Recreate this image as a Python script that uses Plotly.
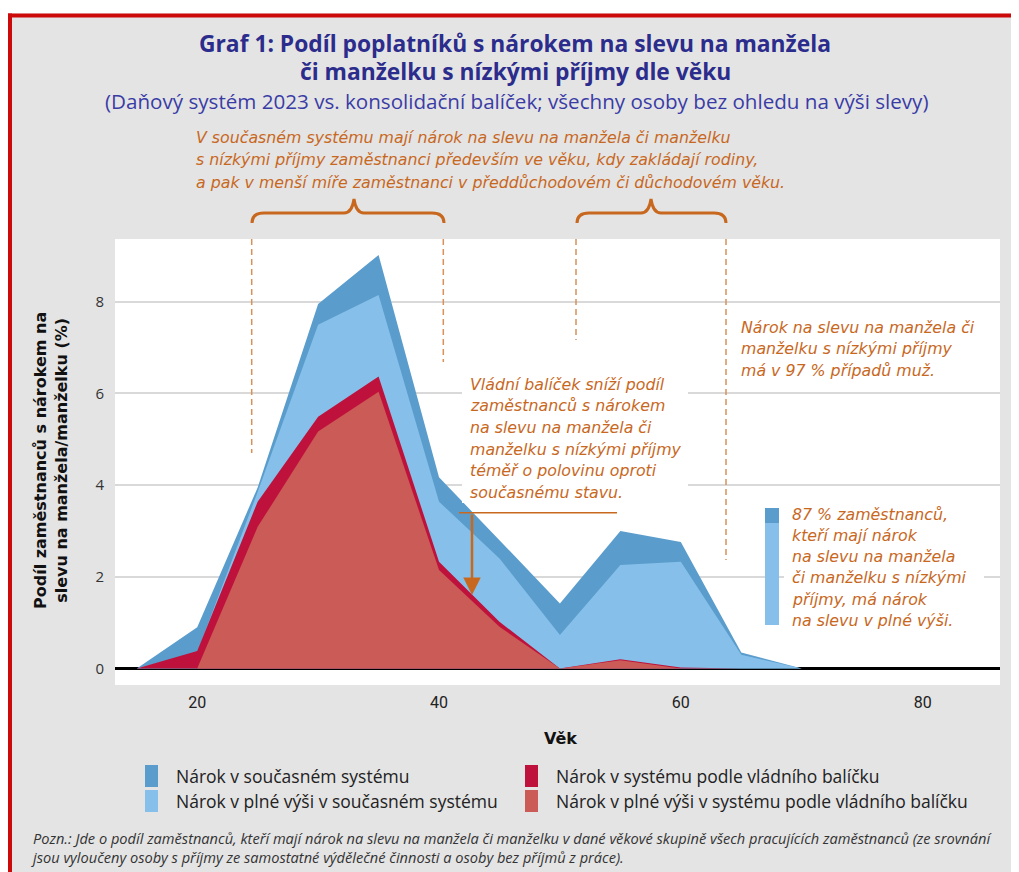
import plotly.graph_objects as go

# ---------------- data ----------------
ages = [15, 20, 25, 30, 35, 40, 45, 50, 55, 60, 65, 70]
current_total = [0, 0.9, 3.95, 7.95, 9.02, 4.17, 2.8, 1.42, 3.0, 2.76, 0.35, 0]
current_full = [0, 0.35, 3.85, 7.5, 8.15, 3.64, 2.4, 0.73, 2.26, 2.33, 0.3, 0]
gov_total = [0, 0.38, 3.64, 5.49, 6.37, 2.33, 1.02, 0, 0.2, 0.02, 0, 0]
gov_full = [0, 0, 3.09, 5.17, 6.04, 2.15, 0.91, 0, 0.18, 0, 0, 0]

series_names = [
    "Nárok v současném systému",
    "Nárok v plné výši v současném systému",
    "Nárok v systému podle vládního balíčku",
    "Nárok v plné výši v systému podle vládního balíčku",
]
series_values = [current_total, current_full, gov_total, gov_full]
series_colors = ["#5a9dcd", "#86c0ea", "#be123c", "#cb5b56"]

x_ticks = [20, 40, 60, 80]
y_ticks = [0, 2, 4, 6, 8]

# ---------------- layout geometry (reference-pixel helpers) ----------------
OFF = 8                      # page body margin
W, H = 1019 - OFF, 872 - OFF
L, R, T, B = 115, 1000, 239, 685   # plot area in reference pixels
PW, PH = R - L, B - T


def px(p):
    return (p - L) / PW


def py(p):
    return (B - p) / PH


ORANGE = "#c8681e"
GRAY_BG = "#e4e4e4"
RED = "#cc0a0a"
HAND = "DejaVu Sans"
SANS = "Open Sans"

fig = go.Figure()
for name, vals, col in zip(series_names, series_values, series_colors):
    fig.add_trace(go.Scatter(
        x=ages, y=vals, name=name, mode="lines", fill="tozeroy",
        fillcolor=col, line=dict(width=0, color=col), showlegend=False,
        hoverinfo="x+y+name",
    ))

shapes = []
annotations = []

# frame: white strip on top + red border
shapes.append(dict(type="rect", xref="paper", yref="paper", x0=px(-20), x1=px(W + 40),
                   y0=py(13.5), y1=py(-20), fillcolor="white", line_width=0, layer="below"))
shapes.append(dict(type="rect", xref="paper", yref="paper", x0=px(8), x1=px(W + 40),
                   y0=py(17.5), y1=py(13.5), fillcolor=RED, line_width=0, layer="above"))
shapes.append(dict(type="rect", xref="paper", yref="paper", x0=px(8), x1=px(12),
                   y0=py(H + 40), y1=py(13.5), fillcolor=RED, line_width=0, layer="above"))

# dashed guide lines
for xp, yb in [(251.7, 453), (443.3, 362), (576, 340), (726, 560)]:
    shapes.append(dict(type="line", xref="paper", yref="paper", x0=px(xp), x1=px(xp),
                       y0=py(T), y1=py(yb), line=dict(color="#d9915a", width=1.5, dash="6px,4px"),
                       layer="above"))


def brace(x0, x1, xm, ytop=199, yarm=213, yend=223):
    pts = []
    pts.append(f"M {px(x0)},{py(yend)}")
    pts.append(f"Q {px(x0)},{py(yarm)} {px(x0 + 12)},{py(yarm)}")
    pts.append(f"L {px(xm - 10)},{py(yarm)}")
    pts.append(f"Q {px(xm - 2)},{py(yarm)} {px(xm)},{py(ytop)}")
    pts.append(f"Q {px(xm + 2)},{py(yarm)} {px(xm + 10)},{py(yarm)}")
    pts.append(f"L {px(x1 - 12)},{py(yarm)}")
    pts.append(f"Q {px(x1)},{py(yarm)} {px(x1)},{py(yend)}")
    return " ".join(pts)


for x0, x1, xm in [(252, 444, 354), (577, 726, 651)]:
    shapes.append(dict(type="path", xref="paper", yref="paper", path=brace(x0, x1, xm),
                       line=dict(color=ORANGE, width=3), layer="above"))

# white boxes behind the two in-plot notes
shapes.append(dict(type="rect", xref="paper", yref="paper", x0=px(462), x1=px(688),
                   y0=py(503), y1=py(372), fillcolor="white", line_width=0, layer="above"))
shapes.append(dict(type="rect", xref="paper", yref="paper", x0=px(784), x1=px(984),
                   y0=py(629), y1=py(503), fillcolor="white", line_width=0, layer="above"))

# horizontal line under the text block
shapes.append(dict(type="line", xref="paper", yref="paper", x0=px(459), x1=px(617),
                   y0=py(512.7), y1=py(512.7), line=dict(color=ORANGE, width=1.5), layer="above"))

# 87 % small bar
shapes.append(dict(type="rect", xref="paper", yref="paper", x0=px(765), x1=px(779),
                   y0=py(523), y1=py(508), fillcolor=series_colors[0], line_width=0, layer="above"))
shapes.append(dict(type="rect", xref="paper", yref="paper", x0=px(765), x1=px(779),
                   y0=py(625), y1=py(523), fillcolor=series_colors[1], line_width=0, layer="above"))

# manual legend (2 x 2)
legend_pos = [(145, 765), (145, 790), (525, 765), (525, 790)]
for (lx, ly), i in zip(legend_pos, range(4)):
    shapes.append(dict(type="rect", xref="paper", yref="paper", x0=px(lx), x1=px(lx + 13),
                       y0=py(ly + 22), y1=py(ly), fillcolor=series_colors[i], line_width=0))
    annotations.append(dict(xref="paper", yref="paper", x=px(lx + 29), y=py(ly + 11),
                            xanchor="left", yanchor="middle", showarrow=False,
                            text=series_names[i],
                            font=dict(family=SANS, size=17.5, color="#222222")))

# arrow
annotations.append(dict(xref="paper", yref="paper", x=px(472), y=py(595), ax=0, ay=-82,
                        text="", showarrow=True, arrowhead=2, arrowsize=1.4, arrowwidth=2.5,
                        arrowcolor=ORANGE))

# titles
TITLE_C = "#2b2c8c"
annotations.append(dict(xref="paper", yref="paper", x=px(515), y=py(43), xanchor="center",
                        yanchor="middle", showarrow=False,
                        text="<b>Graf 1: Podíl poplatníků s nárokem na slevu na manžela</b>",
                        font=dict(family=SANS, size=22.8, color=TITLE_C)))
annotations.append(dict(xref="paper", yref="paper", x=px(515), y=py(71), xanchor="center",
                        yanchor="middle", showarrow=False,
                        text="<b>či manželku s nízkými příjmy dle věku</b>",
                        font=dict(family=SANS, size=22.8, color=TITLE_C)))
annotations.append(dict(xref="paper", yref="paper", x=px(516), y=py(101), xanchor="center",
                        yanchor="middle", showarrow=False,
                        text="(Daňový systém 2023 vs. konsolidační balíček; všechny osoby bez ohledu na výši slevy)",
                        font=dict(family=SANS, size=20.6, color="#3a3ca6")))

# axis titles
annotations.append(dict(xref="paper", yref="paper", x=px(51), y=py(461), xanchor="center",
                        yanchor="middle", showarrow=False, textangle=-90,
                        text="<b>Podíl zaměstnanců s nárokem na<br>slevu na manžela/manželku (%)</b>",
                        font=dict(family="DejaVu Sans", size=16, color="#111111")))
annotations.append(dict(xref="paper", yref="paper", x=px(560), y=py(738), xanchor="center",
                        yanchor="middle", showarrow=False, text="<b>Věk</b>",
                        font=dict(family="DejaVu Sans", size=16, color="#111111")))

# orange notes, placed line by line
note_font = dict(family=HAND, size=15.8, color=ORANGE, style="italic")


def note(lines, x_left, y_first, step):
    for k, line in enumerate(lines):
        annotations.append(dict(xref="paper", yref="paper", x=px(x_left), y=py(y_first + k * step),
                                xanchor="left", yanchor="middle", showarrow=False,
                                text=line, font=note_font))


note(["V současném systému mají nárok na slevu na manžela či manželku",
      "s nízkými příjmy zaměstnanci především ve věku, kdy zakládají rodiny,",
      "a pak v menší míře zaměstnanci v předdůchodovém či důchodovém věku."],
     194, 137, 22.5)
note(["Vládní balíček sníží podíl", "zaměstnanců s nárokem", "na slevu na manžela či",
      "manželku s nízkými příjmy", "téměř o polovinu oproti", "současnému stavu."],
     468, 384, 21.7)
note(["Nárok na slevu na manžela či", "manželku s nízkými příjmy", "má v 97 % případů muž."],
     739, 327, 21.5)
note(["87 % zaměstnanců,", "kteří mají nárok", "na slevu na manžela",
      "či manželku s nízkými", "příjmy, má nárok", "na slevu v plné výši."],
     790, 514, 21.3)

# footnote
annotations.append(dict(xref="paper", yref="paper", x=px(29), y=py(847), xanchor="left",
                        yanchor="middle", showarrow=False, align="left",
                        text="Pozn.: Jde o podíl zaměstnanců, kteří mají nárok na slevu na manžela či manželku v dané věkové skupině všech pracujících zaměstnanců (ze srovnání<br>"
                             "jsou vyloučeny osoby s příjmy ze samostatné výdělečné činnosti a osoby bez příjmů z práce).",
                        font=dict(family=SANS, size=14.6, color="#333333", style="italic")))

fig.update_layout(
    width=W, height=H,
    margin=dict(l=L - OFF, r=W - (R - OFF), t=T - OFF, b=H - (B - OFF), pad=0),
    paper_bgcolor=GRAY_BG, plot_bgcolor="white",
    showlegend=False,
    shapes=shapes, annotations=annotations,
    xaxis=dict(range=[13.2, 86.4], tickvals=x_ticks, showgrid=False, zeroline=False,
               showline=False, ticks="", ticklabelstandoff=6,
               tickfont=dict(family="Roboto", size=16, color="#222222")),
    yaxis=dict(range=[-0.36, 9.37], tickvals=y_ticks, showgrid=True, gridcolor="#d9d9d9",
               gridwidth=1.5, zeroline=True, zerolinecolor="#000000", zerolinewidth=3,
               showline=False, ticks="", ticklabelstandoff=10,
               tickfont=dict(family=SANS, size=15, color="#333333")),
)

fig.write_html("out.html")
